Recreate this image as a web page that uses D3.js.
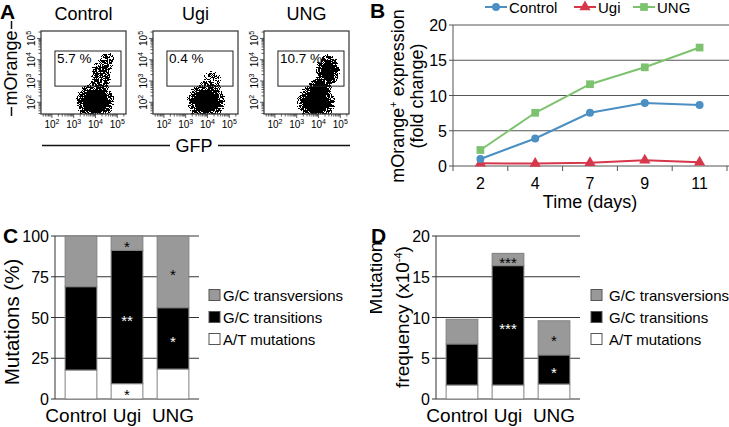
<!DOCTYPE html>
<html>
<head>
<meta charset="utf-8">
<script src="https://cdn.jsdelivr.net/npm/d3@7/dist/d3.min.js"></script>
<style>
  html,body{margin:0;padding:0;background:#fff;}
  svg{display:block;}
  text{font-family:"Liberation Sans",Arial,Helvetica,sans-serif;fill:#000;}
</style>
</head>
<body>
<svg id="fig" width="729" height="427" viewBox="0 0 729 427"></svg>
<script>
// ================= DATA =================
// Panel A – flow cytometry
const flowSamples = ["Control", "Ugi", "UNG"];
const gateLabels = ["5.7 %", "0.4 %", "10.7 %"];
const flowGFPLogDomain = [1.5, 5.4];
const flowOrangeLogDomain = [1.45, 5.35];
const gateGFPLog = [2.14, 5.17];
const gateOrangeLog = [2.76, 4.41];
const flowDecadeTicks = [2, 3, 4, 5];
// populations: [log10 GFP, log10 mOrange, half-width (decades), half-height (decades), density]
const popsControl = [[3.98, 2.04, 1.05, 1.05, 1.0], [4.25, 3.3, 0.62, 0.8, 0.7], [4.55, 3.98, 0.48, 0.55, 0.5]];
const popsUgi = [[3.93, 2.04, 1.05, 1.0, 1.0], [4.2, 3.05, 0.65, 0.65, 0.45]];
const popsUNG = [[3.89, 2.0, 1.05, 1.0, 1.0], [4.06, 2.72, 0.6, 0.55, 0.85], [4.43, 3.5, 0.66, 0.9, 0.9]];

// Panel B
const days = ["2", "4", "7", "9", "11"];
const seriesNames = ["Control", "Ugi", "UNG"];
const foldControl = [1.0, 3.9, 7.55, 8.95, 8.65];
const foldUgi = [0.38, 0.35, 0.47, 0.82, 0.52];
const foldUNG = [2.27, 7.55, 11.6, 14.0, 16.8];
const foldTicks = [0, 5, 10, 15, 20];

// Panel C
const genotypes = ["Control", "Ugi", "UNG"];
const legendTypes = ["G/C transversions", "G/C transitions", "A/T mutations"];
const pctAT = [17.8, 9.4, 18.4];
const pctTransitions = [51.1, 81.8, 37.6];
const pctTransversions = [31.1, 8.8, 44.0];
const pctTicks = [0, 25, 50, 75, 100];
const starsPctAT = ["", "*", ""];
const starsPctTransitions = ["", "**", "*"];
const starsPctTransversions = ["", "*", "*"];

// Panel D
const freqAT = [1.72, 1.72, 1.84];
const freqTransitions = [5.03, 14.64, 3.56];
const freqTransversions = [3.03, 1.51, 4.2];
const freqTicks = [0, 5, 10, 15, 20];
const starsFreqAT = ["", "", ""];
const starsFreqTransitions = ["", "***", "*"];
const starsFreqTransversions = ["", "***", "*"];

// ================= DRAWING =================
const svg = d3.select("#fig");
const defs = svg.append("defs");

// speckle filter for flow dot clouds
const filt = defs.append("filter").attr("id", "speckle")
  .attr("color-interpolation-filters", "sRGB")
  .attr("x", "-20%").attr("y", "-20%").attr("width", "140%").attr("height", "140%");
filt.append("feTurbulence").attr("type", "fractalNoise").attr("baseFrequency", 1.2)
  .attr("numOctaves", 1).attr("seed", 11).attr("result", "noise");
filt.append("feColorMatrix").attr("in", "noise").attr("type", "matrix")
  .attr("values", "0 0 0 0 0  0 0 0 0 0  0 0 0 0 0  5 0 0 0 -2").attr("result", "na");
filt.append("feComposite").attr("in", "SourceGraphic").attr("in2", "na").attr("operator", "arithmetic")
  .attr("k1", 1).attr("k2", 0.56).attr("k3", 0).attr("k4", 0).attr("result", "sum");
const ct = filt.append("feComponentTransfer").attr("in", "sum");
["feFuncR", "feFuncG", "feFuncB"].forEach(f => ct.append(f).attr("type", "linear").attr("slope", 0).attr("intercept", 0));
ct.append("feFuncA").attr("type", "discrete").attr("tableValues", "0 1");

const grad = defs.append("radialGradient").attr("id", "blob");
grad.append("stop").attr("offset", "0").attr("stop-color", "#000").attr("stop-opacity", 1);
grad.append("stop").attr("offset", "0.45").attr("stop-color", "#000").attr("stop-opacity", 1);
grad.append("stop").attr("offset", "0.74").attr("stop-color", "#000").attr("stop-opacity", 0.55);
grad.append("stop").attr("offset", "1").attr("stop-color", "#000").attr("stop-opacity", 0);

// panel letters
const letters = [["A", 0, 19], ["B", 370, 18], ["C", 3, 243], ["D", 371, 243]];
svg.selectAll("text.letter").data(letters).join("text").attr("class", "letter")
  .attr("x", d => d[1]).attr("y", d => d[2]).attr("font-size", 21).attr("font-weight", "bold").text(d => d[0]);

// ---------- Panel A ----------
const flowPops = [popsControl, popsUgi, popsUNG];
const flowLeft = [41, 153, 264];
const boxW = 85, boxH = 83, boxTop = 31;
flowSamples.forEach((name, i) => {
  const g = svg.append("g").attr("transform", `translate(${flowLeft[i]},${boxTop})`);
  const xs = d3.scaleLog().domain(flowGFPLogDomain.map(v => 10 ** v)).range([0, boxW]);
  const ys = d3.scaleLog().domain(flowOrangeLogDomain.map(v => 10 ** v)).range([boxH, 0]);
  const cid = "fclip" + i;
  defs.append("clipPath").attr("id", cid).append("rect").attr("width", boxW).attr("height", boxH);
  const cg = g.append("g").attr("clip-path", `url(#${cid})`).append("g").attr("filter", "url(#speckle)");
  flowPops[i].forEach(p => {
    const cx = xs(10 ** p[0]), cy = ys(10 ** p[1]);
    const rx = xs(10 ** (p[0] + p[2])) - cx, ry = cy - ys(10 ** (p[1] + p[3]));
    cg.append("ellipse").attr("cx", cx).attr("cy", cy).attr("rx", rx).attr("ry", ry)
      .attr("fill", "url(#blob)").attr("fill-opacity", p[4]);
  });
  g.append("rect").attr("width", boxW).attr("height", boxH).attr("fill", "none").attr("stroke", "#333").attr("stroke-width", 1.2);
  // gate
  const gx0 = xs(10 ** gateGFPLog[0]), gx1 = xs(10 ** gateGFPLog[1]);
  const gy0 = ys(10 ** gateOrangeLog[1]), gy1 = ys(10 ** gateOrangeLog[0]);
  g.append("rect").attr("x", gx0).attr("y", gy0).attr("width", gx1 - gx0).attr("height", gy1 - gy0)
    .attr("fill", "none").attr("stroke", "#222").attr("stroke-width", 1);
  g.append("text").attr("x", gx0 + 2).attr("y", gy0 + 11.5).attr("font-size", 13.5).text(gateLabels[i]);
  // ticks
  const xt = xs.ticks(), yt = ys.ticks();
  xt.forEach(v => {
    const major = Math.abs(Math.log10(v) - Math.round(Math.log10(v))) < 1e-9;
    g.append("line").attr("x1", xs(v)).attr("x2", xs(v)).attr("y1", boxH).attr("y2", boxH + (major ? 4 : 2.5))
      .attr("stroke", "#333").attr("stroke-width", 0.8);
  });
  yt.forEach(v => {
    const major = Math.abs(Math.log10(v) - Math.round(Math.log10(v))) < 1e-9;
    g.append("line").attr("y1", ys(v)).attr("y2", ys(v)).attr("x1", 0).attr("x2", -(major ? 4 : 2.5))
      .attr("stroke", "#333").attr("stroke-width", 0.8);
  });
  flowDecadeTicks.forEach(k => {
    const t = g.append("text").attr("x", xs(10 ** k)).attr("y", boxH + 14).attr("text-anchor", "middle").attr("font-size", 10);
    t.append("tspan").text("10");
    t.append("tspan").attr("dy", -4).attr("font-size", 7).text(k);
    const ty = g.append("text").attr("transform", `translate(-6,${ys(10 ** k)}) rotate(-90)`).attr("text-anchor", "middle").attr("font-size", 10);
    ty.append("tspan").text("10");
    ty.append("tspan").attr("dy", -4).attr("font-size", 7).text(k);
  });
  svg.append("text").attr("x", flowLeft[i] + boxW / 2).attr("y", 20).attr("text-anchor", "middle").attr("font-size", 18).text(name);
});
// GFP axis title
svg.append("line").attr("x1", 42).attr("x2", 170).attr("y1", 145.5).attr("y2", 145.5).attr("stroke", "#111").attr("stroke-width", 1.5);
svg.append("line").attr("x1", 218).attr("x2", 350).attr("y1", 145.5).attr("y2", 145.5).attr("stroke", "#111").attr("stroke-width", 1.5);
svg.append("text").attr("x", 194).attr("y", 151.5).attr("text-anchor", "middle").attr("font-size", 18).text("GFP");
// mOrange axis title
svg.append("text").attr("transform", "translate(17,68) rotate(-90)").attr("text-anchor", "middle").attr("font-size", 18).text("mOrange");
svg.append("line").attr("x1", 11.5).attr("x2", 11.5).attr("y1", 21).attr("y2", 29).attr("stroke", "#111").attr("stroke-width", 1.5);
svg.append("line").attr("x1", 11.5).attr("x2", 11.5).attr("y1", 107).attr("y2", 116).attr("stroke", "#111").attr("stroke-width", 1.5);

// ---------- Panel B ----------
const bLeft = 453, bRight = 727;
const bx = d3.scaleBand().domain(days).range([bLeft, bRight]);
const by = d3.scaleLinear().domain([0, 20]).range([166, 25]);
const gB = svg.append("g");
foldTicks.forEach(t => {
  gB.append("line").attr("x1", bLeft - 4).attr("x2", 729).attr("y1", by(t)).attr("y2", by(t))
    .attr("stroke", "#555").attr("stroke-width", 1);
  gB.append("text").attr("x", bLeft - 6).attr("y", by(t) + 6).attr("text-anchor", "end").attr("font-size", 16).text(t);
});
gB.append("line").attr("x1", bLeft).attr("x2", bLeft).attr("y1", by(20)).attr("y2", by(0)).attr("stroke", "#555");
days.concat(["end"]).forEach((d, i) => {
  const xv = i < days.length ? bx(d) : bRight;
  gB.append("line").attr("x1", xv).attr("x2", xv).attr("y1", by(0)).attr("y2", by(0) + 5).attr("stroke", "#555");
});
days.forEach(d => {
  gB.append("text").attr("x", bx(d) + bx.bandwidth() / 2).attr("y", 189).attr("text-anchor", "middle").attr("font-size", 16).text(d);
});
gB.append("text").attr("x", 590).attr("y", 208).attr("text-anchor", "middle").attr("font-size", 18).text("Time (days)");
const yT = gB.append("text").attr("transform", "translate(404,96) rotate(-90)").attr("text-anchor", "middle").attr("font-size", 18);
yT.append("tspan").text("mOrange");
yT.append("tspan").attr("dy", -7).attr("font-size", 11).text("+");
yT.append("tspan").attr("dy", 7).text(" expression");
gB.append("text").attr("transform", "translate(423,96) rotate(-90)").attr("text-anchor", "middle").attr("font-size", 18).text("(fold change)");

const bSeries = [
  {name: "Ugi", vals: foldUgi, color: "#d6374b", sym: d3.symbolTriangle, size: 55},
  {name: "Control", vals: foldControl, color: "#4b8fc3", sym: d3.symbolCircle, size: 50},
  {name: "UNG", vals: foldUNG, color: "#7dc36f", sym: d3.symbolSquare, size: 60}
];
const lineGen = d3.line().x((v, i) => bx(days[i]) + bx.bandwidth() / 2).y(v => by(v));
bSeries.forEach(s => {
  gB.append("path").attr("d", lineGen(s.vals)).attr("fill", "none").attr("stroke", s.color).attr("stroke-width", 2);
  s.vals.forEach((v, i) => {
    gB.append("path").attr("d", d3.symbol(s.sym, s.size)())
      .attr("transform", `translate(${bx(days[i]) + bx.bandwidth() / 2},${by(v)})`).attr("fill", s.color);
  });
});
// legend
const legX = [485, 574, 633];
seriesNames.forEach((n, i) => {
  const s = bSeries.find(q => q.name === n);
  gB.append("line").attr("x1", legX[i]).attr("x2", legX[i] + 22).attr("y1", 7).attr("y2", 7).attr("stroke", s.color).attr("stroke-width", 2);
  gB.append("path").attr("d", d3.symbol(s.sym, s.size)()).attr("transform", `translate(${legX[i] + 11},7)`).attr("fill", s.color);
  gB.append("text").attr("x", legX[i] + 24).attr("y", 12.5).attr("font-size", 15).text(n);
});

// ---------- Panels C & D ----------
const fills = {at: "#ffffff", transition: "#000000", transversion: "#999999"};
const starColor = {at: "#000", transition: "#fff", transversion: "#000"};
const labelShift = [-5, 0, 0];
function drawStack(o) {
  const g = svg.append("g");
  const x = d3.scaleBand().domain(genotypes).range([o.left, o.right]).paddingInner(0.31).paddingOuter(0.22);
  const y = d3.scaleLinear().domain([0, o.max]).range([399, 236]);
  o.ticks.forEach(t => {
    g.append("line").attr("x1", o.left - 4).attr("x2", o.right).attr("y1", y(t)).attr("y2", y(t)).attr("stroke", "#333").attr("stroke-width", 1);
    g.append("text").attr("x", o.left - 6).attr("y", y(t) + 6).attr("text-anchor", "end").attr("font-size", 16).text(t);
  });
  g.append("line").attr("x1", o.left).attr("x2", o.left).attr("y1", y(o.max)).attr("y2", y(0)).attr("stroke", "#333");
  const rows = genotypes.map((gn, i) => ({genotype: gn, at: o.at[i], transition: o.trans[i], transversion: o.transv[i], i}));
  const stack = d3.stack().keys(["at", "transition", "transversion"])(rows);
  const stars = {at: o.sAt, transition: o.sTrans, transversion: o.sTransv};
  stack.forEach(layer => {
    layer.forEach(seg => {
      g.append("rect").attr("x", x(seg.data.genotype)).attr("width", x.bandwidth())
        .attr("y", y(seg[1])).attr("height", y(seg[0]) - y(seg[1]))
        .attr("fill", fills[layer.key]).attr("stroke", "#808080").attr("stroke-width", 1);
      const st = stars[layer.key][seg.data.i];
      if (st) {
        g.append("text").attr("x", x(seg.data.genotype) + x.bandwidth() / 2).attr("y", y((seg[0] + seg[1]) / 2) + 8.5)
          .attr("text-anchor", "middle").attr("font-size", 15).style("fill", starColor[layer.key]).text(st);
      }
    });
  });
  genotypes.forEach((gn, i) => {
    g.append("text").attr("x", x(gn) + x.bandwidth() / 2 + labelShift[i]).attr("y", 422).attr("text-anchor", "middle").attr("font-size", 19).text(gn);
  });
  const legFill = ["transversion", "transition", "at"];
  legendTypes.forEach((lt, i) => {
    const cy = 295 + i * 22;
    g.append("rect").attr("x", o.legX).attr("y", cy - 5.5).attr("width", 11).attr("height", 11)
      .attr("fill", fills[legFill[i]]).attr("stroke", "#555").attr("stroke-width", 1);
    g.append("text").attr("x", o.legTextX).attr("y", cy + 5.5).attr("font-size", 15).text(lt);
  });
  return g;
}
drawStack({left: 55, right: 199, max: 100, ticks: pctTicks, at: pctAT, trans: pctTransitions, transv: pctTransversions,
  sAt: starsPctAT, sTrans: starsPctTransitions, sTransv: starsPctTransversions, legX: 209, legTextX: 223});
drawStack({left: 436, right: 580, max: 20, ticks: freqTicks, at: freqAT, trans: freqTransitions, transv: freqTransversions,
  sAt: starsFreqAT, sTrans: starsFreqTransitions, sTransv: starsFreqTransversions, legX: 591, legTextX: 609});

svg.append("text").attr("transform", "translate(19,322) rotate(-90)").attr("text-anchor", "middle").attr("font-size", 20.5).text("Mutations (%)");
defs.append("clipPath").attr("id", "dclip").append("rect").attr("x", 370).attr("y", 210).attr("width", 359).attr("height", 217);
const dT = svg.append("g").attr("clip-path", "url(#dclip)");
dT.append("text").attr("transform", "translate(382,278) rotate(-90)").attr("text-anchor", "middle").attr("font-size", 19).text("Mutation");
const fT = svg.append("text").attr("transform", "translate(409,317) rotate(-90)").attr("text-anchor", "middle").attr("font-size", 19);
fT.append("tspan").text("frequency (x10");
fT.append("tspan").attr("dy", -7).attr("font-size", 11).text("-4");
fT.append("tspan").attr("dy", 7).text(")");
</script>
</body>
</html>
